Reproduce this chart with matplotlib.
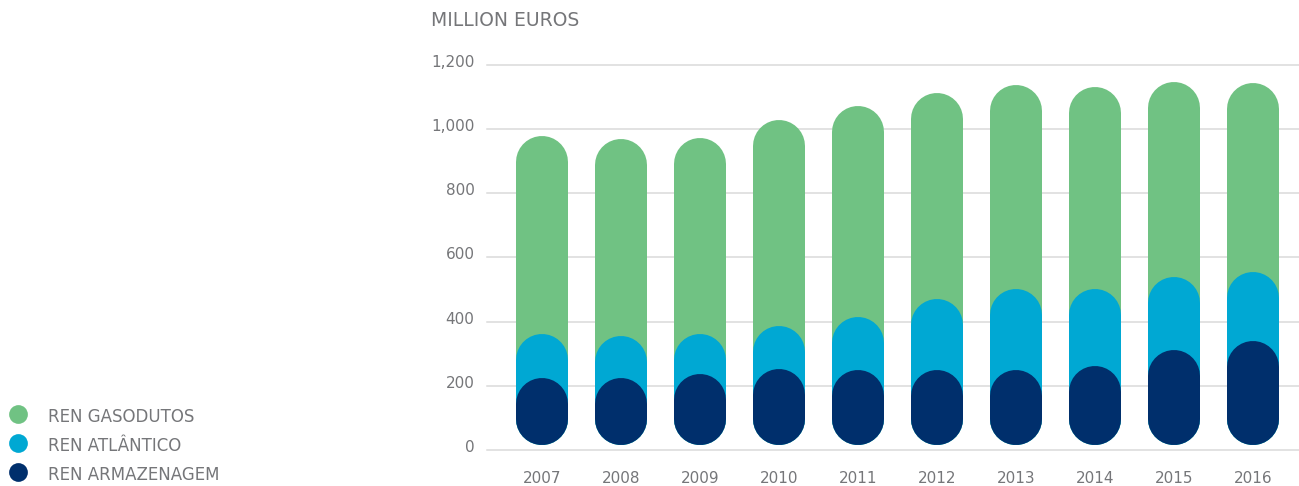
import matplotlib
matplotlib.use("Agg")
import matplotlib.pyplot as plt
import matplotlib.transforms as mtransforms
from matplotlib.lines import Line2D

# datos (millones de euros)
years = ["2007", "2008", "2009", "2010", "2011", "2012", "2013", "2014", "2015", "2016"]
armazenagem = [225, 224, 238, 252, 250, 249, 248, 263, 311, 341]
atlantico = [136, 131, 124, 135, 165, 222, 254, 239, 227, 215]
gasodutos = [619, 613, 611, 641, 656, 642, 637, 630, 609, 588]

series_names = ["REN GASODUTOS", "REN ATLÂNTICO", "REN ARMAZENAGEM"]
colors = ["#70c283", "#00a8d3", "#002f6c"]
grey = "#757679"

plt.rcParams["font.family"] = ["DejaVu Sans"]

W, H = 1299, 486
fig = plt.figure(figsize=(W / 100, H / 100), dpi=100)

# ejes: x de 487 a 1299 px, y de 65 (1200) a 450 (0)
ax = fig.add_axes([487 / W, (H - 450) / H, (W - 487) / W, 385 / H])
ax.set_ylim(0, 1200)
ax.set_xlim(-55 / 79, (W - 542) / 79)

for s in ax.spines.values():
    s.set_visible(False)

ax.set_yticks(range(0, 1201, 200))
ax.set_yticklabels([f"{v:,}" for v in range(0, 1201, 200)])
ax.yaxis.grid(True, color="#dadada", lw=1.1)
for gl in ax.get_ygridlines():
    gl.set_clip_on(False)
ax.set_axisbelow(True)
ax.tick_params(axis="y", length=0, pad=9, labelsize=11, labelcolor=grey)
ax.tick_params(axis="x", length=0, pad=15, labelsize=11, labelcolor=grey)
ax.set_xticks(range(len(years)))
ax.set_xticklabels(years)
up = mtransforms.ScaledTranslation(0, 3 / 72, fig.dpi_scale_trans)
for lab in ax.get_yticklabels():
    lab.set_transform(lab.get_transform() + up)

# barras tipo "píldora" superpuestas: líneas gruesas con extremos redondos
top_blue = [a + b for a, b in zip(armazenagem, atlantico)]
top_green = [t + g for t, g in zip(top_blue, gasodutos)]
bar_px = 52
r = (bar_px / 2) / (385 / 1200)   # radio del extremo en unidades de datos
base = 15
for i in range(len(years)):
    for top, c in zip([top_green[i], top_blue[i], armazenagem[i]], colors):
        ax.plot([i, i], [base + r, top - r], color=c, lw=bar_px * 72 / 100,
                solid_capstyle="round", clip_on=False, zorder=3)

fig.text(431 / W, 1 - 20.5 / H, "MILLION EUROS", fontsize=13.5, color=grey, va="center", ha="left")

# leyenda
for k, (name, c) in enumerate(zip(series_names, colors)):
    y = 413.5 + k * 29
    fig.add_artist(Line2D([18 / W], [1 - y / H], marker="o", ms=13.5, color=c,
                          mec="none", transform=fig.transFigure))
    fig.text(47.5 / W, 1 - (y + 3.5) / H, name, fontsize=12, color=grey, va="center", ha="left")

fig.savefig("out.png", dpi=100)
